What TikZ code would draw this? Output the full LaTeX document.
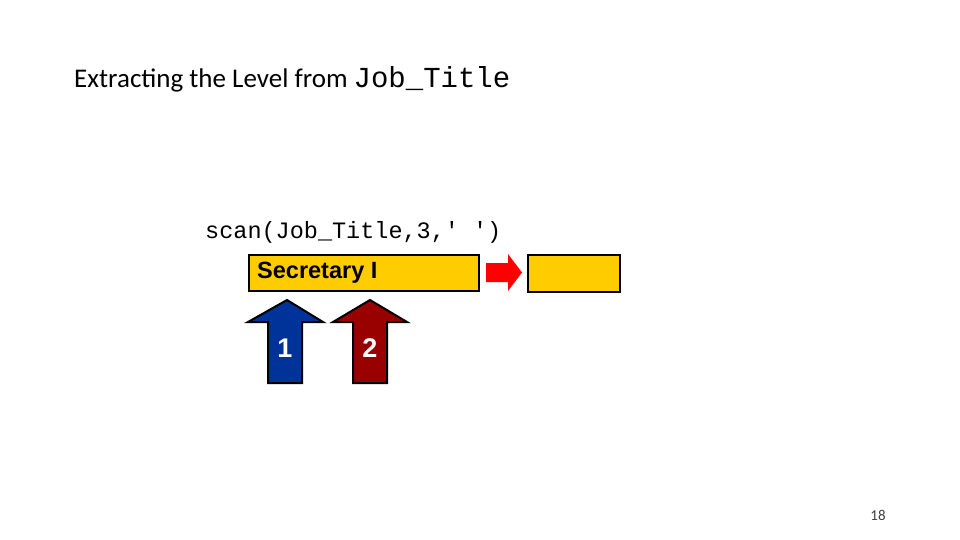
\documentclass[tikz,border=0pt]{standalone}
\usepackage{fontspec}
\setmainfont{Carlito}
\newfontfamily\monofont{Liberation Mono}
\newfontfamily\arialfont{Liberation Sans}
\usetikzlibrary{positioning}
\definecolor{gold}{RGB}{255,204,0}
\definecolor{navy}{RGB}{0,51,153}
\definecolor{maroon}{RGB}{153,0,0}
\tikzset{field/.style={draw=black,line width=2.4pt,fill=gold,inner sep=0pt,anchor=north west},
  uparrow/.style={draw=black,line width=2pt,line join=miter}}
\begin{document}
\begin{tikzpicture}[x=1pt,y=-1pt]
\useasboundingbox (0,0) rectangle (960,540);
\node[anchor=west,inner sep=0pt,font=\fontsize{27}{32}\selectfont] (title) at (74,79)
  {Extracting the Level from {\monofont\fontsize{29}{32}\selectfont Job\_Title}};
\node[anchor=west,inner sep=0pt,font=\monofont\fontsize{23.5}{28}\selectfont] (call) at (205,232)
  {scan(Job\_Title,3,' ')};
\node[field,minimum width=230pt,minimum height=36pt] (source) at (248,254) {};
\node[anchor=west,font=\arialfont\bfseries\fontsize{23.5}{28}\selectfont,inner sep=0pt] (word) at (257,273) {Secretary I};
\node[field,minimum width=92pt,minimum height=37pt] (result) at (527,254) {};
% red arrow between the fields
\fill[red] (486,263) -- (508,263) -- (508,254) -- (522,272.5) -- (508,291) -- (508,282) -- (486,282) -- cycle;
% position arrows
\draw[uparrow,fill=navy] (287,300) -- (323,322) -- (302,322) -- (302,383) -- (268,383) -- (268,322) -- (248,322) -- cycle;
\draw[uparrow,fill=maroon] (370,300) -- (407,322) -- (387,322) -- (387,383) -- (353,383) -- (353,322) -- (333,322) -- cycle;
\node[font=\arialfont\bfseries\fontsize{27}{32}\selectfont,text=white] (one) at (285,348) {1};
\node[font=\arialfont\bfseries\fontsize{27}{32}\selectfont,text=white] (two) at (370,348) {2};
\node[font=\fontsize{15}{18}\selectfont,text=black!75] (page) at (878,515) {18};
\end{tikzpicture}
\end{document}
